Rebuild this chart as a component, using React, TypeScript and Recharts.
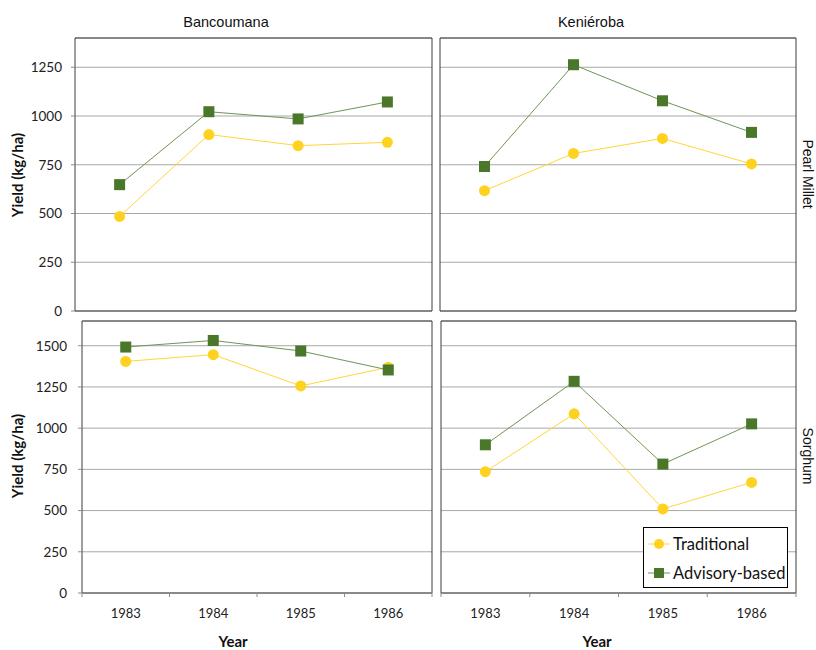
import { CartesianGrid, Legend, Line, LineChart, ReferenceArea, XAxis, YAxis } from 'recharts'

const years = [1983, 1984, 1985, 1986]
const yearEdges = [1982.5, 1983.5, 1984.5, 1985.5, 1986.5]
const milletTicks = [0, 250, 500, 750, 1000, 1250]
const sorghumTicks = [0, 250, 500, 750, 1000, 1250, 1500]
const milletMax = 1400
const sorghumMax = 1650
const seriesOrder = ['traditional', 'advisory']

const bancoumanaMilletTraditional = [485, 905, 848, 865]
const bancoumanaMilletAdvisory = [648, 1022, 985, 1072]
const kenierobaMilletTraditional = [617, 808, 885, 754]
const kenierobaMilletAdvisory = [741, 1263, 1078, 916]
const bancoumanaSorghumTraditional = [1405, 1446, 1256, 1369]
const bancoumanaSorghumAdvisory = [1492, 1532, 1468, 1353]
const kenierobaSorghumTraditional = [736, 1087, 510, 671]
const kenierobaSorghumAdvisory = [899, 1284, 782, 1026]

const YELLOW = '#FFD21F'
const YELLOW_LINE = '#FFD63A'
const GREEN = '#4A7729'
const GREEN_LINE = '#6F9553'
const GRID = '#a8a8a8'
const TICK_FONT = 'Lato, "Open Sans", sans-serif'
const TITLE_FONT = '"Liberation Sans", Arial, sans-serif'

const toRows = (trad: number[], adv: number[]) =>
    years.map((year, i) => ({ year, traditional: trad[i], advisory: adv[i] }))

const SquareDot = (props: any) => {
    const { cx, cy, index } = props
    if (cx == null || cy == null) return null
    return <rect key={`sq-${index}`} x={cx - 5.5} y={cy - 5.5} width={11} height={11} fill={GREEN} />
}

// year labels at category centres, short tick marks at category edges
const YearTick = (props: any) => {
    const { x, y, payload } = props
    const v = payload.value as number
    if (!Number.isInteger(v)) {
        return <line x1={x} x2={x} y1={y} y2={y + 4} stroke="#8c8c8c" />
    }
    return (
        <text x={x} y={y + 25} textAnchor="middle" fontFamily={TICK_FONT} fontSize={13} fill="#222">
            {v}
        </text>
    )
}

function LegendBox({ payload }: any) {
    const items = [...(payload || [])].sort(
        (a: any, b: any) => seriesOrder.indexOf(a.dataKey) - seriesOrder.indexOf(b.dataKey)
    )
    return (
        <div style={{ position: 'relative', width: 145, height: 61, boxSizing: 'border-box', border: '1px solid #000', background: '#fff' }}>
            {items.map((entry: any, i: number) => {
                const isTrad = entry.dataKey === 'traditional'
                return (
                    <div key={entry.value} style={{ position: 'absolute', left: 3, top: i === 0 ? 4 : 33, height: 24, display: 'flex', alignItems: 'center' }}>
                        <svg width={24} height={14}>
                            <line x1={1} x2={23} y1={7} y2={7} stroke={isTrad ? YELLOW_LINE : GREEN_LINE} strokeWidth={1} />
                            {isTrad ? <circle cx={12} cy={7} r={5} fill={YELLOW} /> : <rect x={7} y={2} width={10} height={10} fill={GREEN} />}
                        </svg>
                        <span style={{ marginLeft: 2, fontFamily: TICK_FONT, fontSize: 16.5, color: '#111', whiteSpace: 'nowrap' }}>{entry.value}</span>
                    </div>
                )
            })}
        </div>
    )
}

interface PanelProps {
    trad: number[]
    adv: number[]
    left: number
    top: number
    width: number
    height: number
    margin: { top: number; right: number; bottom: number; left: number }
    yWidth: number
    showY: boolean
    showX: boolean
    yMax: number
    yTicks: number[]
    tickMargin: number
    legend?: boolean
}

function Panel(p: PanelProps) {
    const data = toRows(p.trad, p.adv)
    return (
        <div style={{ position: 'absolute', left: p.left, top: p.top }}>
            <LineChart width={p.width} height={p.height} data={data} margin={p.margin}>
                <CartesianGrid xAxisId="years" vertical={false} stroke={GRID} />
                <XAxis
                    xAxisId="years"
                    type="number"
                    dataKey="year"
                    domain={[1982.5, 1986.5]}
                    ticks={[...yearEdges, ...years].sort((a, b) => a - b)}
                    interval={0}
                    hide={!p.showX}
                    height={57}
                    tickSize={0}
                    tickMargin={0}
                    tickLine={false}
                    axisLine={{ stroke: '#8c8c8c' }}
                    tick={<YearTick />}
                />
                <YAxis
                    type="number"
                    domain={[0, p.yMax]}
                    ticks={p.yTicks}
                    interval={0}
                    hide={!p.showY}
                    width={p.yWidth}
                    axisLine={false}
                    tickLine={{ stroke: '#8c8c8c' }}
                    tickSize={4}
                    tickMargin={p.tickMargin}
                    tick={{ fontFamily: TICK_FONT, fontSize: 13.5, fill: '#222' }}
                />
                <ReferenceArea
                    xAxisId="years"
                    x1={1982.5}
                    x2={1986.5}
                    y1={0}
                    y2={p.yMax}
                    fill="none"
                    fillOpacity={0}
                    stroke="#3c3c3c"
                    strokeOpacity={1}
                    ifOverflow="visible"
                />
                {p.legend && (
                    <Legend
                        layout="vertical"
                        align="center"
                        verticalAlign="middle"
                        content={<LegendBox />}
                        wrapperStyle={{ left: 207, top: 211, width: 145, height: 61 }}
                    />
                )}
                <Line
                    xAxisId="years"
                    dataKey="traditional"
                    name="Traditional"
                    stroke={YELLOW_LINE}
                    strokeWidth={1}
                    dot={{ r: 5.5, fill: YELLOW, stroke: YELLOW, strokeWidth: 0 }}
                    activeDot={false}
                    legendType="circle"
                    isAnimationActive={false}
                />
                <Line
                    xAxisId="years"
                    dataKey="advisory"
                    name="Advisory-based"
                    stroke={GREEN_LINE}
                    strokeWidth={1}
                    dot={<SquareDot />}
                    activeDot={false}
                    legendType="square"
                    isAnimationActive={false}
                />
            </LineChart>
        </div>
    )
}

export default function App() {
    return (
        <div style={{ position: 'absolute', left: 0, top: 0, width: 816, height: 650, background: '#fff', overflow: 'hidden' }}>
            <Panel
                trad={bancoumanaMilletTraditional}
                adv={bancoumanaMilletAdvisory}
                left={0}
                top={0}
                width={440}
                height={320}
                margin={{ top: 38, right: 8, bottom: 9, left: 0 }}
                yWidth={75}
                showY
                showX={false}
                yMax={milletMax}
                yTicks={milletTicks}
                tickMargin={9}
            />
            <Panel
                trad={kenierobaMilletTraditional}
                adv={kenierobaMilletAdvisory}
                left={436}
                top={0}
                width={380}
                height={320}
                margin={{ top: 38, right: 20, bottom: 9, left: 4 }}
                yWidth={0}
                showY={false}
                showX={false}
                yMax={milletMax}
                yTicks={milletTicks}
                tickMargin={9}
            />
            <Panel
                trad={bancoumanaSorghumTraditional}
                adv={bancoumanaSorghumAdvisory}
                left={0}
                top={316}
                width={440}
                height={334}
                margin={{ top: 5, right: 8, bottom: 0, left: 0 }}
                yWidth={82}
                showY
                showX
                yMax={sorghumMax}
                yTicks={sorghumTicks}
                tickMargin={11}
            />
            <Panel
                trad={kenierobaSorghumTraditional}
                adv={kenierobaSorghumAdvisory}
                left={436}
                top={316}
                width={380}
                height={334}
                margin={{ top: 5, right: 20, bottom: 0, left: 5 }}
                yWidth={0}
                showY={false}
                showX
                yMax={sorghumMax}
                yTicks={sorghumTicks}
                tickMargin={11}
                legend
            />
            <svg width={816} height={650} style={{ position: 'absolute', left: 0, top: 0, pointerEvents: 'none' }}>
                <text x={226} y={26.5} textAnchor="middle" fontFamily={TITLE_FONT} fontSize={14.5} fill="#111">Bancoumana</text>
                <text x={591} y={26.5} textAnchor="middle" fontFamily={TITLE_FONT} fontSize={14.5} fill="#111">Keniéroba</text>
                <text x={803} y={174} textAnchor="middle" fontFamily={TITLE_FONT} fontSize={14} fill="#111" transform="rotate(90 803 174)">Pearl Millet</text>
                <text x={803} y={456} textAnchor="middle" fontFamily={TITLE_FONT} fontSize={14} fill="#111" transform="rotate(90 803 456)">Sorghum</text>
                <text x={23} y={175} textAnchor="middle" fontFamily={TICK_FONT} fontWeight="bold" fontSize={15} fill="#111" transform="rotate(-90 23 175)">Yield (kg/ha)</text>
                <text x={23} y={456} textAnchor="middle" fontFamily={TICK_FONT} fontWeight="bold" fontSize={15} fill="#111" transform="rotate(-90 23 456)">Yield (kg/ha)</text>
                <text x={233} y={647} textAnchor="middle" fontFamily={TICK_FONT} fontWeight="bold" fontSize={15} fill="#111">Year</text>
                <text x={597} y={647} textAnchor="middle" fontFamily={TICK_FONT} fontWeight="bold" fontSize={15} fill="#111">Year</text>
            </svg>
        </div>
    )
}
